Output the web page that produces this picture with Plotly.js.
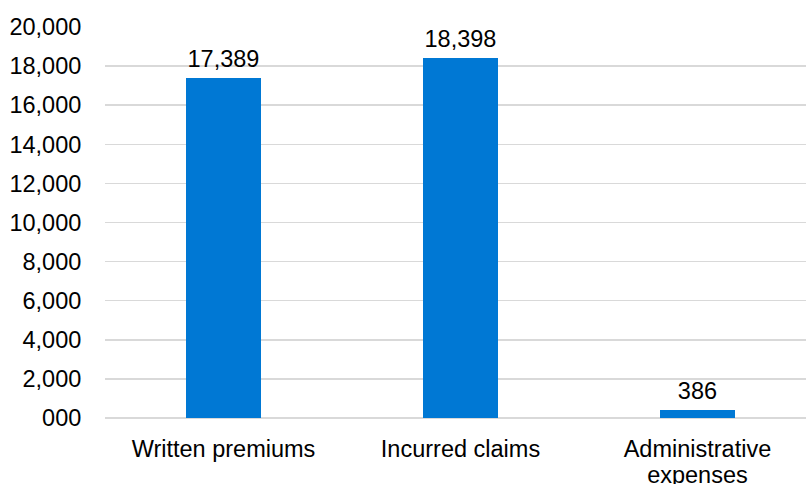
<!DOCTYPE html>
<html>
<head>
<meta charset="utf-8">
<script src="https://cdn.plot.ly/plotly-3.0.1.min.js"></script>
<style>html,body{margin:0;padding:0;background:#fff;}#chart{width:806px;height:484px;}</style>
</head>
<body>
<div id="chart"></div>
<script>
const categories = ["Written premiums", "Incurred claims", "Administrative<br>expenses"];
const values = [17389, 18398, 386];
const tickValues = [0, 2000, 4000, 6000, 8000, 10000, 12000, 14000, 16000, 18000, 20000];
const tickLabels = ["000", "2,000", "4,000", "6,000", "8,000", "10,000", "12,000", "14,000", "16,000", "18,000", "20,000"];

const FONT = "'Liberation Sans', Arial, sans-serif";
const trace = {
  type: "bar",
  x: [0, 1, 2],
  y: values,
  width: 0.3135,
  marker: {color: "#0078d4"},
  text: values.map(v => v.toLocaleString("en-US")),
  textposition: "outside",
  textfont: {family: FONT, size: 23.5, color: "#000"},
  cliponaxis: false,
  hoverinfo: "none"
};
const layout = {
  width: 806, height: 484,
  margin: {l: 105, r: 0, t: 26.5, b: 66, pad: 0},
  paper_bgcolor: "#fff", plot_bgcolor: "#fff",
  font: {family: FONT, size: 23.5, color: "#000"},
  showlegend: false,
  bargap: 0,
  xaxis: {
    range: [-0.5, 2.458],
    tickvals: [0, 1, 2],
    ticktext: categories,
    ticks: "outside", ticklen: 10, tickcolor: "rgba(0,0,0,0)",
    showgrid: false, zeroline: false, showline: false,
    tickfont: {family: FONT, size: 23.5, color: "#000"},
    fixedrange: true
  },
  yaxis: {
    range: [0, 20000],
    tickvals: tickValues,
    ticktext: tickLabels,
    ticks: "outside", ticklen: 18, tickcolor: "rgba(0,0,0,0)",
    showgrid: true, gridcolor: "#d9d9d9", gridwidth: 1.5,
    zeroline: true, zerolinecolor: "#d9d9d9", zerolinewidth: 1.5,
    showline: false,
    tickfont: {family: FONT, size: 23.5, color: "#000"},
    fixedrange: true
  }
};
Plotly.newPlot("chart", [trace], layout, {staticPlot: true, displayModeBar: false}).then(gd => {
  // tighten the line spacing of the wrapped category label
  gd.querySelectorAll(".xtick text tspan.line").forEach((t, i) => {
    if (t.getAttribute("dy") && t.getAttribute("dy").indexOf("1.3em") >= 0) t.setAttribute("dy", "1.1em");
  });
  // lift the value labels a little further above the bars
  gd.querySelectorAll(".bartext").forEach(t => {
    const tr = t.getAttribute("transform") || "";
    t.setAttribute("transform", "translate(0,-3) " + tr);
  });
});
</script>
</body>
</html>
